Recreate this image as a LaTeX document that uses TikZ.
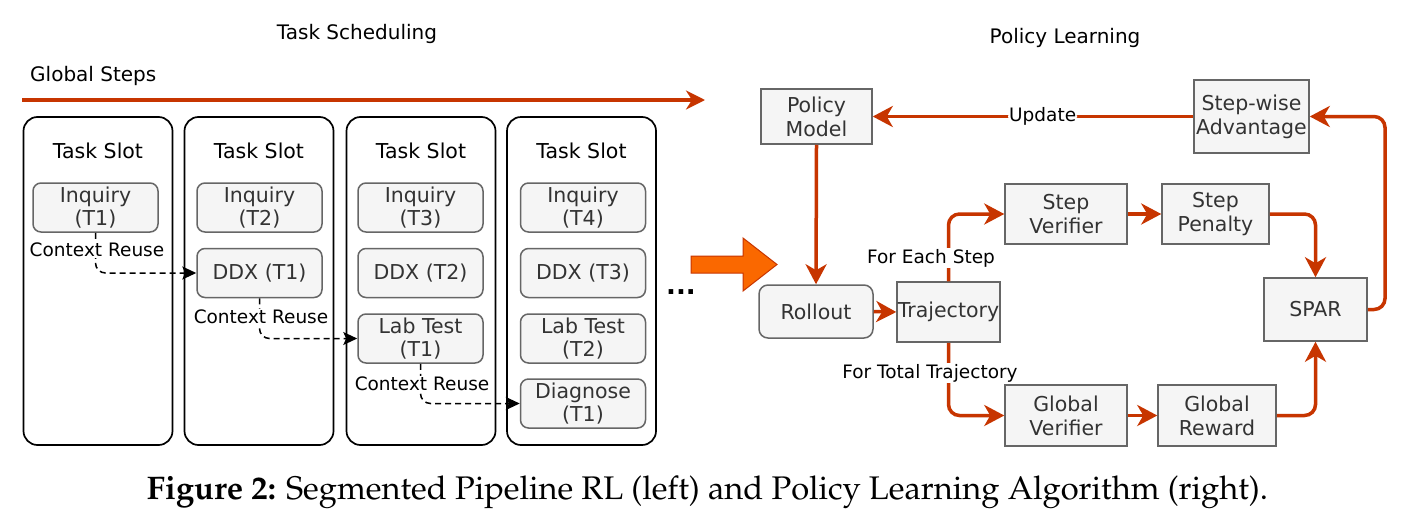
\documentclass[tikz,border=0pt]{standalone}
\usepackage{fontspec}
\usepackage{graphicx}
\newfontfamily\dv{DejaVu Sans}
\usetikzlibrary{arrows.meta}
\definecolor{boxfill}{HTML}{F5F5F5}
\definecolor{boxline}{HTML}{666666}
\definecolor{boxtext}{HTML}{333333}
\definecolor{flow}{HTML}{C73500}
\definecolor{blockfill}{HTML}{FA6800}
\tikzset{
  slotbox/.style={draw=black, line width=1.7pt, rounded corners=14pt, minimum width=149pt, minimum height=328pt, inner sep=0pt},
  taskbox/.style={draw=boxline, fill=boxfill, line width=1.5pt, rounded corners=8pt, minimum width=125pt, minimum height=49pt, inner sep=0pt, align=center, text=boxtext, font=\dv\fontsize{20.5}{23.5}\selectfont},
  flowbox/.style={draw=boxline, fill=boxfill, line width=1.5pt, inner sep=0pt, align=center, text=boxtext, font=\dv\fontsize{20.5}{24}\selectfont},
  titletext/.style={font=\dv\fontsize{20}{24}\selectfont, text=black, inner sep=0pt},
  slottitle/.style={font=\dv\fontsize{20.5}{24}\selectfont, text=black, inner sep=0pt},
  edgelabel/.style={font=\dv\fontsize{18.5}{22}\selectfont, text=black, fill=white, inner sep=1pt},
  reuse/.style={draw=black, line width=1.5pt, dash pattern=on 6pt off 4pt, rounded corners=10pt, -{Stealth[length=14pt, width=13pt, inset=3pt]}},
  flowarrow/.style={draw=flow, line width=3.5pt, rounded corners=11pt, -{Stealth[length=20pt, width=21pt, inset=6pt]}}
}
\begin{document}
\begin{tikzpicture}[x=1pt,y=-1pt]
\useasboundingbox (0,0) rectangle (1412,525);
\fill[white] (0,0) rectangle (1412,525);

% titles
\node[titletext] (tsched) at (357,34) {Task Scheduling};
\node[titletext] (plearn) at (1065,38) {Policy Learning};
\node[titletext, anchor=west] (gsteps) at (30,76) {Global Steps};

% global steps arrow
\coordinate (gs0) at (22,100);
\coordinate (gs1) at (705,100);
\draw[flow, line width=3.5pt, -{Stealth[length=19pt, width=19pt, inset=6pt]}] (gs0) -- (gs1);

% slots
\node[slotbox] (s1) at (98,281) {};
\node[slotbox] (s2) at (259,281) {};
\node[slotbox] (s3) at (421,281) {};
\node[slotbox] (s4) at (581.5,281) {};
\node[slottitle] (st1) at (98,151) {Task Slot};
\node[slottitle] (st2) at (259,151) {Task Slot};
\node[slottitle] (st3) at (421,151) {Task Slot};
\node[slottitle] (st4) at (581.5,151) {Task Slot};

% tasks
\node[taskbox] (i1) at (95.5,207.5) {Inquiry\\(T1)};
\node[taskbox] (i2) at (259.5,207.5) {Inquiry\\(T2)};
\node[taskbox] (d1) at (259.5,273) {DDX (T1)};
\node[taskbox] (i3) at (420.5,207.5) {Inquiry\\(T3)};
\node[taskbox] (d2) at (420.5,273) {DDX (T2)};
\node[taskbox] (l1) at (420.5,338.5) {Lab Test\\(T1)};
\node[taskbox] (i4) at (583,207.5) {Inquiry\\(T4)};
\node[taskbox] (d3) at (583,273) {DDX (T3)};
\node[taskbox] (l2) at (583,338.5) {Lab Test\\(T2)};
\node[taskbox] (g1) at (583,403.5) {Diagnose\\(T1)};

% context reuse
\draw[reuse] (i1.south) |- (d1.west);
\node[edgelabel] (cr1) at (97,250) {Context Reuse};
\draw[reuse] (d1.south) |- (l1.west);
\node[edgelabel] (cr2) at (261,317) {Context Reuse};
\draw[reuse] (l1.south) |- (g1.west);
\node[edgelabel] (cr3) at (422,384) {Context Reuse};

% dots
\node[font=\dv\bfseries\fontsize{26}{30}\selectfont, inner sep=0pt, anchor=base] (dots) at (681,294) {...};

% block arrow
\draw[draw=flow, fill=blockfill, line width=1pt, line join=miter]
  (691,256) -- (743,256) -- (743,238) -- (777,264.5) -- (743,291) -- (743,273) -- (691,273) -- cycle;

% policy learning nodes
\node[flowbox, minimum width=111pt, minimum height=55pt] (pm) at (816.5,116.5) {Policy\\Model};
\node[flowbox, rounded corners=9pt, minimum width=114pt, minimum height=53pt] (ro) at (816,311.5) {Rollout};
\node[flowbox, minimum width=103pt, minimum height=60pt] (tr) at (948.5,312) {\makebox[0pt]{Trajectory}};
\node[flowbox, minimum width=122pt, minimum height=60pt] (sv) at (1066,214) {Step\\Verifier};
\node[flowbox, minimum width=122pt, minimum height=61pt] (gv) at (1066,415.5) {Global\\Verifier};
\node[flowbox, minimum width=107pt, minimum height=60pt] (sp) at (1215.5,214) {Step\\Penalty};
\node[flowbox, minimum width=118pt, minimum height=61pt] (gr) at (1217,415.5) {Global\\Reward};
\node[flowbox, minimum width=103pt, minimum height=63pt] (spar) at (1315.5,309.5) {SPAR};
\node[flowbox, minimum width=115pt, minimum height=73pt] (adv) at (1251.5,116.5) {Step-wise\\Advantage};

% flows
\draw[flowarrow] (adv.west) -- node[pos=0.47, edgelabel] (upd) {Update} (pm.east);
\draw[flowarrow] (pm.south) -- (ro.north);
\draw[flowarrow] (ro.east) -- (tr.west);
\draw[flowarrow] (tr.north) |- (sv.west);
\node[edgelabel] (fes) at (931,258) {For Each Step};
\draw[flowarrow] (tr.south) |- (gv.west);
\node[edgelabel] (ftt) at (930,373) {For Total Trajectory};
\draw[flowarrow] (sv.east) -- (sp.west);
\draw[flowarrow] (gv.east) -- (gr.west);
\draw[flowarrow] (sp.east) -| (spar.north);
\draw[flowarrow] (gr.east) -| (spar.south);
\coordinate (loop) at (1385,309.5);
\draw[flowarrow] (spar.east) -- (loop) |- (adv.east);

% caption
\node[inner sep=0pt, anchor=base] (cap) at (707.5,499) {\resizebox{1121pt}{!}{\fontencoding{OT1}\fontfamily{ppl}\fontsize{32}{38}\selectfont\textbf{Figure 2:} Segmented Pipeline RL (left) and Policy Learning Algorithm (right).}};
\end{tikzpicture}
\end{document}
